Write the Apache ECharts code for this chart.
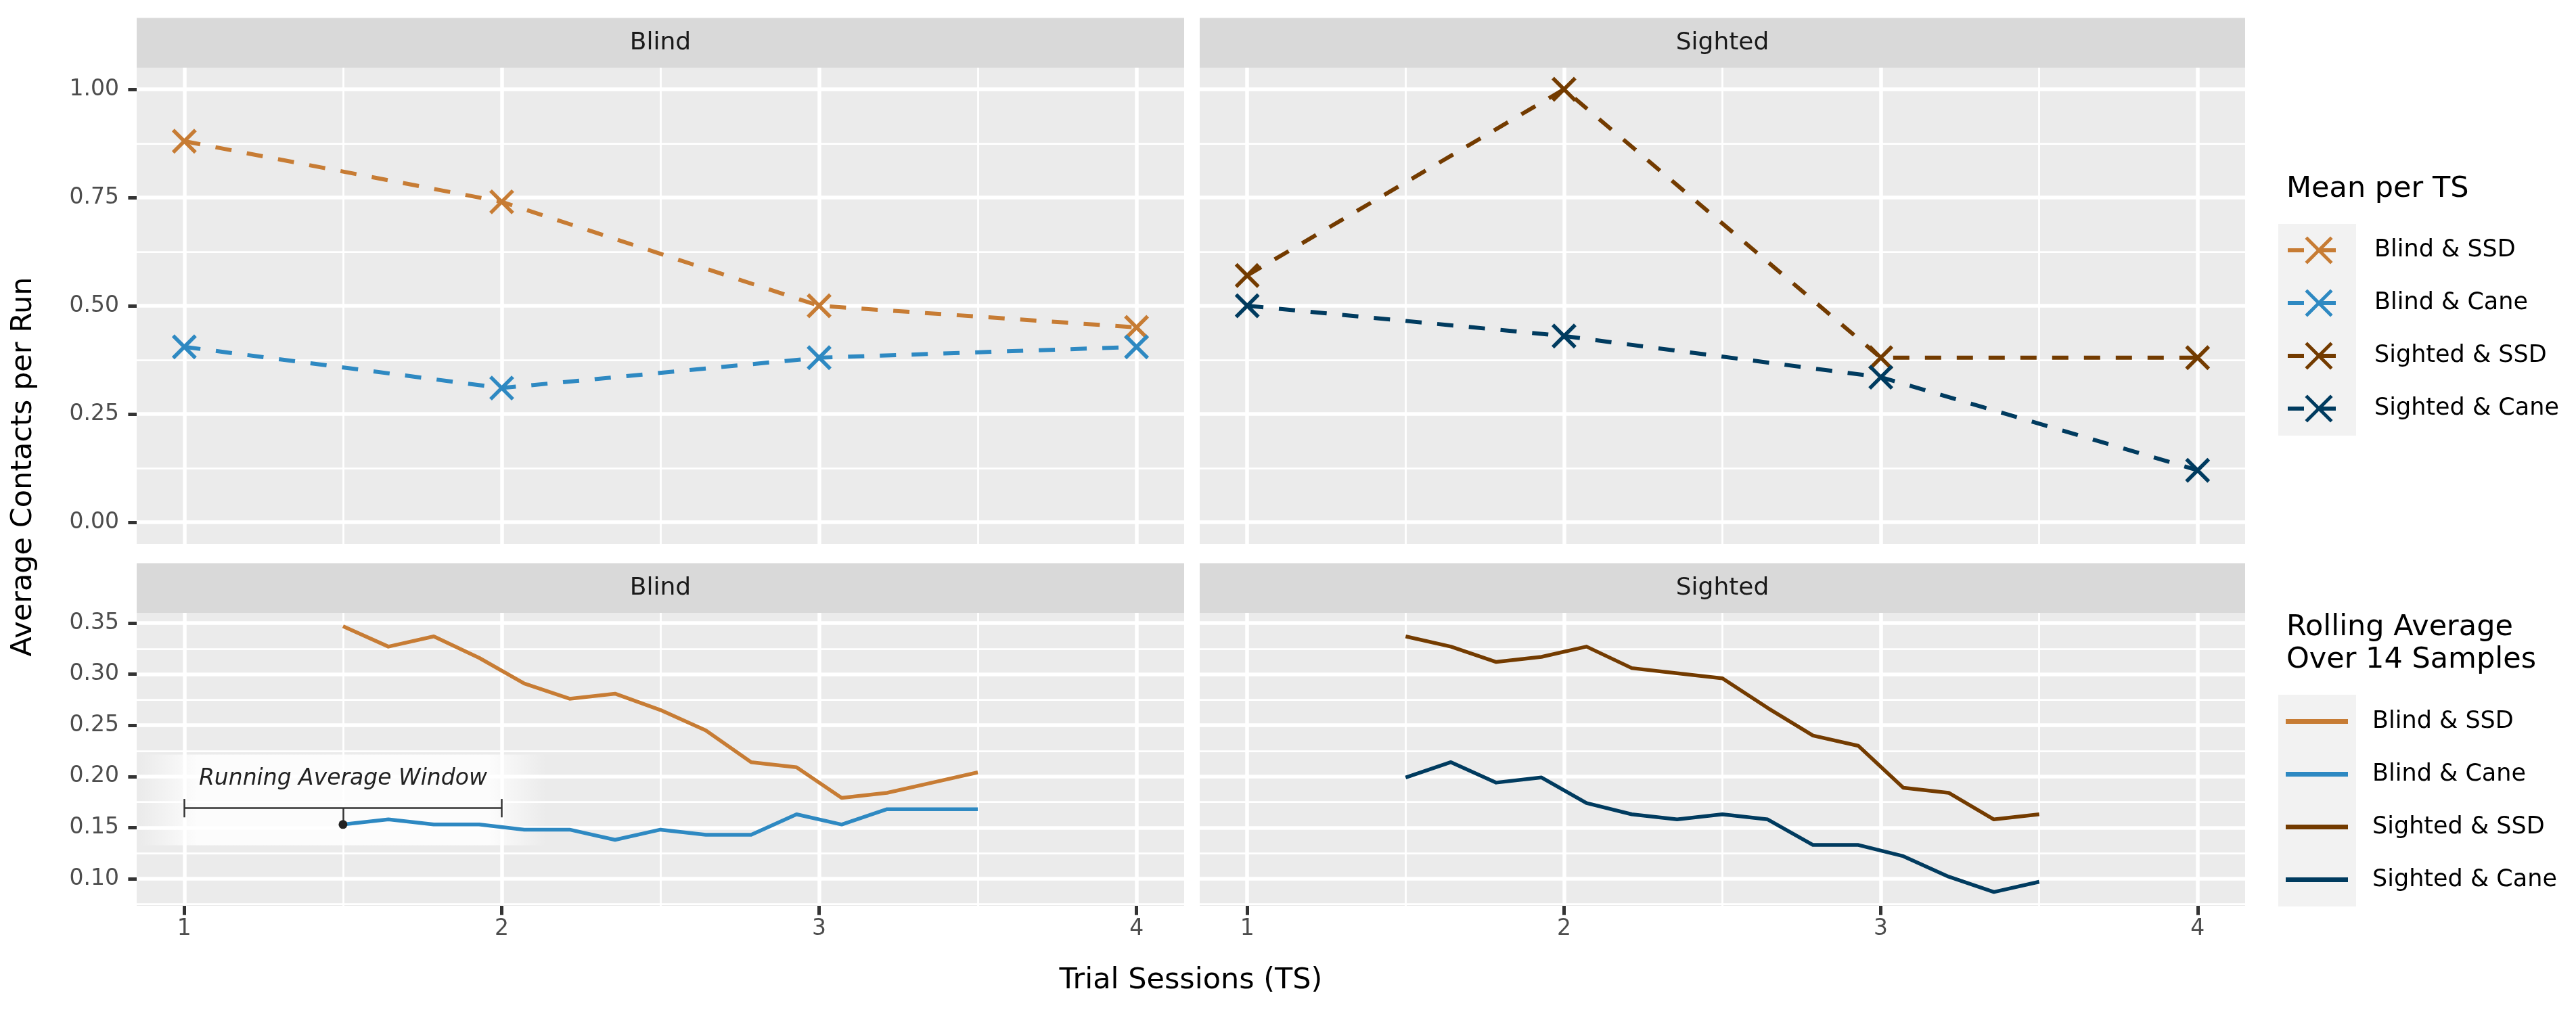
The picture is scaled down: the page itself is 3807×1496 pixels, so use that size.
<!DOCTYPE html>
<html>
<head>
<meta charset="utf-8">
<script src="https://cdn.jsdelivr.net/npm/echarts@6/dist/echarts.min.js"></script>
<style>
html,body{margin:0;padding:0;background:#ffffff;}
#chart{width:3807px;height:1496px;}
</style>
</head>
<body>
<div id="chart"></div>
<script>
// ---------------- data ----------------
const sessions = [1, 2, 3, 4];
const groupNames = ['Blind & SSD', 'Blind & Cane', 'Sighted & SSD', 'Sighted & Cane'];
const facetLabels = ['Blind', 'Sighted'];

// Mean contacts per trial session
const meanBlindSSD    = [0.88, 0.74, 0.50, 0.45];
const meanBlindCane   = [0.405, 0.31, 0.38, 0.405];
const meanSightedSSD  = [0.57, 1.00, 0.38, 0.38];
const meanSightedCane = [0.50, 0.43, 0.335, 0.12];

// Rolling average over 14 samples
const rollX = [1.5, 1.643, 1.786, 1.929, 2.071, 2.214, 2.357, 2.5, 2.643, 2.786, 2.929, 3.071, 3.214, 3.357, 3.5];
const rollBlindSSD    = [0.347, 0.327, 0.337, 0.316, 0.291, 0.276, 0.281, 0.265, 0.245, 0.214, 0.209, 0.179, 0.184, 0.194, 0.204];
const rollBlindCane   = [0.153, 0.158, 0.153, 0.153, 0.148, 0.148, 0.138, 0.148, 0.143, 0.143, 0.163, 0.153, 0.168, 0.168, 0.168];
const rollSightedSSD  = [0.337, 0.327, 0.312, 0.317, 0.327, 0.306, 0.301, 0.296, 0.267, 0.240, 0.230, 0.189, 0.184, 0.158, 0.163];
const rollSightedCane = [0.199, 0.214, 0.194, 0.199, 0.174, 0.163, 0.158, 0.163, 0.158, 0.133, 0.133, 0.122, 0.102, 0.087, 0.097];

// Ticks
const xTicks = [1, 2, 3, 4];
const yTopTicks = [0, 0.25, 0.5, 0.75, 1.0];
const yBottomTicks = [0.10, 0.15, 0.20, 0.25, 0.30, 0.35];

// Annotation (data space)
const annotText = 'Running Average Window';
const windowSpan = [1, 2];
const windowLevel = 0.169;
const capHalf = 0.009;
const annotTextY = 0.1974;
const annotBoxX = [0.86, 2.14];
const annotBoxY = [0.1327, 0.2214];

// Texts
const yTitle = 'Average Contacts per Run';
const xTitle = 'Trial Sessions (TS)';
const legendTitleTop = 'Mean per TS';
const legendTitleBottom = 'Rolling Average\nOver 14 Samples';

// ---------------- style ----------------
const FONT = 'DejaVu Sans';
const colors = ['#C77C34', '#2E89C2', '#733B00', '#003B5F'];
const panelBg = '#EBEBEB';
const stripBg = '#D9D9D9';
const keyBg = '#F2F2F2';

const panels = [
  {left: 202,  top: 100, width: 1548, height: 704},
  {left: 1773, top: 100, width: 1545, height: 704},
  {left: 202,  top: 906, width: 1548, height: 433},
  {left: 1773, top: 906, width: 1545, height: 433}
];
const stripH = 73.5;

const xSymbol = 'path://M0,0L10,10M10,0L0,10';

function pairs(xs, ys) { return xs.map((x, i) => [x, ys[i]]); }

function xAxisCfg(gridIndex, showLabels) {
  return {
    type: 'value', gridIndex: gridIndex,
    min: 0.85, max: 4.15, minInterval: 1, maxInterval: 1,
    axisLine: {show: false},
    axisTick: {show: showLabels, customValues: xTicks, length: 13.7, lineStyle: {color: '#333333', width: 5}},
    axisLabel: {show: showLabels, customValues: xTicks, fontSize: 33, color: '#4D4D4D', margin: 18, fontFamily: FONT},
    splitLine: {show: true, lineStyle: {color: '#FFFFFF', width: 5.5}},
    minorTick: {show: false, splitNumber: 2},
    minorSplitLine: {show: true, lineStyle: {color: '#FFFFFF', width: 2.75}}
  };
}
function yAxisCfg(gridIndex, showLabels, top) {
  const ticks = top ? yTopTicks : yBottomTicks;
  return {
    type: 'value', gridIndex: gridIndex,
    min: top ? -0.05 : 0.0735, max: top ? 1.05 : 0.36,
    minInterval: top ? 0.25 : 0.05, maxInterval: top ? 0.25 : 0.05,
    axisLine: {show: false},
    axisTick: {show: showLabels, customValues: ticks, length: 12.6, lineStyle: {color: '#333333', width: 5}},
    axisLabel: {show: showLabels, customValues: ticks, fontSize: 33, color: '#4D4D4D', margin: 26, fontFamily: FONT,
      formatter: v => Number(v).toFixed(2)},
    splitLine: {show: true, lineStyle: {color: '#FFFFFF', width: 5.5}},
    minorTick: {show: false, splitNumber: 2},
    minorSplitLine: {show: true, lineStyle: {color: '#FFFFFF', width: 2.75}}
  };
}

function meanSeries(name, values, color, gi) {
  return {
    name: name, type: 'line', xAxisIndex: gi, yAxisIndex: gi,
    data: pairs(sessions, values),
    symbol: xSymbol, symbolSize: 33, showSymbol: true,
    lineStyle: {color: color, width: 6, type: [24, 23]},
    itemStyle: {color: color, borderColor: color, borderWidth: 5.5},
    emphasis: {disabled: true}, silent: true, z: 3
  };
}
function rollSeries(name, values, color, gi) {
  return {
    name: name, type: 'line', xAxisIndex: gi, yAxisIndex: gi,
    data: pairs(rollX, values),
    symbol: 'none', showSymbol: false,
    lineStyle: {color: color, width: 5.5, type: 'solid', join: 'round'},
    itemStyle: {color: color},
    emphasis: {disabled: true}, silent: true, z: 3
  };
}

const blindCaneRolling = rollSeries(groupNames[1], rollBlindCane, colors[1], 2);
blindCaneRolling.markArea = {
  silent: true,
  label: {show: false},
  itemStyle: {
    color: {type: 'linear', x: 0, y: 0, x2: 1, y2: 0, colorStops: [
      {offset: 0, color: 'rgba(255,255,255,0)'},
      {offset: 0.14, color: 'rgba(255,255,255,0.85)'},
      {offset: 0.86, color: 'rgba(255,255,255,0.85)'},
      {offset: 1, color: 'rgba(255,255,255,0)'}
    ]}
  },
  data: [[{coord: [annotBoxX[0], annotBoxY[1]]}, {coord: [annotBoxX[1], annotBoxY[0]]}]]
};
blindCaneRolling.markLine = {
  silent: true, animation: false,
  symbol: ['none', 'none'],
  label: {show: false},
  lineStyle: {color: '#333333', width: 2.5, type: 'solid'},
  emphasis: {disabled: true},
  data: [
    [{coord: [windowSpan[0], windowLevel]}, {coord: [windowSpan[1], windowLevel]}],
    [{coord: [windowSpan[0], windowLevel - capHalf]}, {coord: [windowSpan[0], windowLevel + capHalf]}],
    [{coord: [windowSpan[1], windowLevel - capHalf]}, {coord: [windowSpan[1], windowLevel + capHalf]}],
    [{coord: [rollX[0], windowLevel]}, {coord: [rollX[0], rollBlindCane[0]]}]
  ]
};
blindCaneRolling.markPoint = {
  silent: true, animation: false,
  data: [
    {coord: [rollX[0], rollBlindCane[0]], symbol: 'circle', symbolSize: 13, itemStyle: {color: '#222222'}, label: {show: false}},
    {coord: [(windowSpan[0] + windowSpan[1]) / 2, annotTextY], symbol: 'rect', symbolSize: 1,
      itemStyle: {color: 'rgba(0,0,0,0)'},
      label: {show: true, position: 'inside', formatter: annotText, fontStyle: 'italic', fontSize: 33, color: '#222222', fontFamily: FONT}}
  ]
};

const series = [
  meanSeries(groupNames[0], meanBlindSSD, colors[0], 0),
  meanSeries(groupNames[1], meanBlindCane, colors[1], 0),
  meanSeries(groupNames[2], meanSightedSSD, colors[2], 1),
  meanSeries(groupNames[3], meanSightedCane, colors[3], 1),
  rollSeries(groupNames[0], rollBlindSSD, colors[0], 2),
  blindCaneRolling,
  rollSeries(groupNames[2], rollSightedSSD, colors[2], 3),
  rollSeries(groupNames[3], rollSightedCane, colors[3], 3)
];

// graphic: strips, legend titles, axis titles, key backgrounds
const graphic = [];
panels.forEach((p, i) => {
  graphic.push({type: 'rect', z: 0, silent: true,
    shape: {x: p.left, y: p.top - stripH, width: p.width, height: stripH},
    style: {fill: stripBg}});
  graphic.push({type: 'text', z: 1, silent: true,
    style: {text: facetLabels[i % 2], x: p.left + p.width / 2, y: p.top - stripH / 2,
      align: 'center', verticalAlign: 'middle', fontSize: 36, fontFamily: FONT, fill: '#1A1A1A'}});
});
graphic.push({type: 'rect', z: 0, silent: true, shape: {x: 3367, y: 331, width: 115, height: 313}, style: {fill: keyBg}});
graphic.push({type: 'rect', z: 0, silent: true, shape: {x: 3367, y: 1027, width: 115, height: 313}, style: {fill: keyBg}});
graphic.push({type: 'text', z: 1, silent: true,
  style: {text: legendTitleTop, x: 3379, y: 280, align: 'left', verticalAlign: 'middle', fontSize: 43, fontFamily: FONT, fill: '#000000'}});
graphic.push({type: 'text', z: 1, silent: true,
  style: {text: legendTitleBottom, x: 3379, y: 952, align: 'left', verticalAlign: 'middle', fontSize: 43, lineHeight: 48, fontFamily: FONT, fill: '#000000'}});
graphic.push({type: 'text', z: 1, silent: true,
  style: {text: xTitle, x: (panels[2].left + panels[3].left + panels[3].width) / 2, y: 1450,
    align: 'center', verticalAlign: 'middle', fontSize: 43, fontFamily: FONT, fill: '#000000'}});
graphic.push({type: 'text', z: 1, silent: true, rotation: Math.PI / 2, x: 35, y: 690,
  style: {text: yTitle, x: 0, y: 0, align: 'center', verticalAlign: 'middle', fontSize: 43, fontFamily: FONT, fill: '#000000'}});

const option = {
  animation: false,
  backgroundColor: '#FFFFFF',
  textStyle: {fontFamily: FONT},
  grid: panels.map(p => ({
    left: p.left, top: p.top, width: p.width, height: p.height,
    show: true, backgroundColor: panelBg, borderWidth: 0,
    containLabel: false, outerBoundsMode: 'none'
  })),
  xAxis: [xAxisCfg(0, false), xAxisCfg(1, false), xAxisCfg(2, true), xAxisCfg(3, true)],
  yAxis: [yAxisCfg(0, true, true), yAxisCfg(1, false, true), yAxisCfg(2, true, false), yAxisCfg(3, false, false)],
  legend: [
    {
      orient: 'vertical', left: 3378, top: 346.5, padding: 0, z: 10,
      itemWidth: 92, itemHeight: 47, itemGap: 31,
      selectedMode: false,
      data: groupNames,
      itemStyle: {borderWidth: 5},
      lineStyle: {width: 6, type: [24, 23]},
      textStyle: {fontSize: 35, color: '#000000', fontFamily: FONT, lineHeight: 47, padding: [0, 0, 0, 31]}
    },
    {
      orient: 'vertical', left: 3378, top: 1043, padding: 0, z: 10,
      itemWidth: 92, itemHeight: 7, itemGap: 31,
      selectedMode: false,
      icon: 'rect',
      data: groupNames,
      itemStyle: {borderWidth: 0},
      textStyle: {fontSize: 35, color: '#000000', fontFamily: FONT, lineHeight: 47, padding: [0, 0, 0, 31]}
    }
  ],
  graphic: graphic,
  series: series
};

const chart = echarts.init(document.getElementById('chart'), null, {renderer: 'canvas'});
chart.setOption(option);
</script>
</body>
</html>
